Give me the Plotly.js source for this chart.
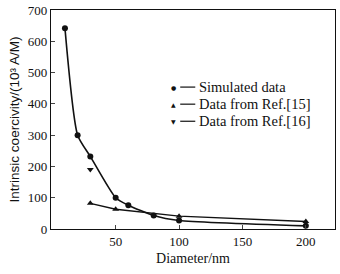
<!DOCTYPE html>
<html><head><meta charset="utf-8">
<script src="https://cdn.plot.ly/plotly-3.0.1.min.js"></script>
<style>html,body{margin:0;padding:0;background:#fff}#c{width:340px;height:274px}</style>
</head><body><div id="c"></div>
<script>
const simX = [10, 20, 30, 50, 60, 80, 100, 200];
const simY = [642, 300, 232, 100, 76, 43, 27, 10];
const ref15X = [30, 50, 100, 200];
const ref15Y = [82, 63, 41, 24];
const ref16X = [30];
const ref16Y = [190];
const xTicks = [50, 100, 150, 200];
const yTicks = [0, 100, 200, 300, 400, 500, 600, 700];
const seriesNames = ['Simulated data', 'Data from Ref.[15]', 'Data from Ref.[16]'];
const legendGlyphs = ['●', '▲', '▼'];

const serif = 'Liberation Serif, Times New Roman, serif';
const sans = 'Liberation Sans, Arial, sans-serif';
const ink = '#111';
const traces = [
  {x: simX, y: simY, name: seriesNames[0], mode: 'lines+markers', line: {color: ink, width: 1.6, shape: 'spline', smoothing: 0.6}, marker: {symbol: 'circle', size: 6, color: ink}},
  {x: ref15X, y: ref15Y, name: seriesNames[1], mode: 'lines+markers', line: {color: ink, width: 1.4}, marker: {symbol: 'triangle-up', size: 6, color: ink}},
  {x: ref16X, y: ref16Y, name: seriesNames[2], mode: 'lines+markers', line: {color: ink, width: 1.4}, marker: {symbol: 'triangle-down', size: 6, color: ink}}
];

// manual legend (marker glyph, short dash, label) to mimic the original compact legend
const legY = [0.648, 0.570, 0.492];
const annotations = [];
const shapes = [];
seriesNames.forEach((n, i) => {
  annotations.push({xref: 'paper', yref: 'paper', x: 0.43, y: legY[i], xanchor: 'center', yanchor: 'middle', showarrow: false,
    text: legendGlyphs[i], font: {family: 'DejaVu Sans', size: 6, color: ink}});
  annotations.push({xref: 'paper', yref: 'paper', x: 0.513, y: legY[i], xanchor: 'left', yanchor: 'middle', showarrow: false,
    text: n, font: {family: serif, size: 14.5, color: ink}});
  shapes.push({type: 'line', xref: 'paper', yref: 'paper', x0: 0.455, x1: 0.508, y0: legY[i], y1: legY[i], line: {color: ink, width: 1.2}});
});

const layout = {
  width: 340, height: 274,
  margin: {l: 51, r: 5, t: 10, b: 45},
  paper_bgcolor: '#fff', plot_bgcolor: '#fff',
  font: {family: serif, color: ink, size: 13},
  showlegend: false,
  annotations: annotations,
  shapes: shapes,
  xaxis: {range: [-1, 223], tickvals: xTicks, ticks: 'inside', ticklen: 4, showline: true, mirror: true, linecolor: ink, linewidth: 1.2, showgrid: false, zeroline: false,
    title: {text: 'Diameter/nm', font: {family: serif, size: 14, color: ink}, standoff: 5}, tickfont: {family: serif, size: 13, color: ink}},
  yaxis: {range: [0, 700], tickvals: yTicks, ticks: 'inside', ticklen: 4, showline: true, mirror: true, linecolor: ink, linewidth: 1.2, showgrid: false, zeroline: false,
    title: {text: 'Intrinsic coercivity/(10³ A/M)', font: {family: sans, size: 13.5, color: ink}, standoff: 5}, tickfont: {family: serif, size: 13, color: ink}}
};
Plotly.newPlot('c', traces, layout, {displayModeBar: false, staticPlot: true});
</script></body></html>
